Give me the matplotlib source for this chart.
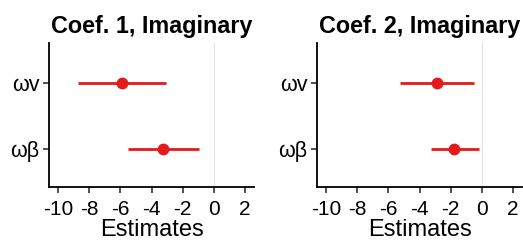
import matplotlib.pyplot as plt

# categories (bottom to top) and estimates
terms = ['ωβ', 'ωv']
titles = ['Coef. 1, Imaginary', 'Coef. 2, Imaginary']
est = [[-3.25, -5.9], [-1.8, -2.9]]
low = [[-5.5, -8.75], [-3.25, -5.25]]
high = [[-0.95, -3.05], [-0.2, -0.5]]
xticks = [-10, -8, -6, -4, -2, 0, 2]

plt.rcParams['font.family'] = ['Liberation Sans', 'DejaVu Sans']

fig = plt.figure(figsize=(5.23, 2.42), dpi=100)
lefts = [49 / 523, 317 / 523]

for i in range(2):
    ax = fig.add_axes([lefts[i], 1 - 187 / 242, 205 / 523, 144 / 242])
    ypos = list(range(1, len(terms) + 1))
    ax.axvline(0, color='#e3e3e3', lw=0.8, zorder=0)
    ax.hlines(ypos, low[i], high[i], color='#e41a1c', lw=2)
    ax.plot(est[i], ypos, 'o', color='#e41a1c', ms=7.5)
    ax.set_xlim(-10.6, 2.6)
    ax.set_ylim(0.42, 2.6)
    ax.set_yticks(ypos)
    ax.set_yticklabels(terms)
    ax.set_xticks(xticks)
    ax.set_xticklabels([str(t) for t in xticks])
    ax.tick_params(labelsize=15, length=4, width=1.2, color='#333333')
    ax.tick_params(axis='x', pad=5.5)
    ax.tick_params(axis='y', pad=3, labelsize=15.5)
    ax.set_xlabel('Estimates', fontsize=17, labelpad=0)
    ax.set_title(titles[i], fontsize=16.8, fontweight='bold', pad=7.5)
    for s in ['top', 'right']:
        ax.spines[s].set_visible(False)
    for s in ['left', 'bottom']:
        ax.spines[s].set_linewidth(1.3)

fig.savefig('out.png', dpi=100)
